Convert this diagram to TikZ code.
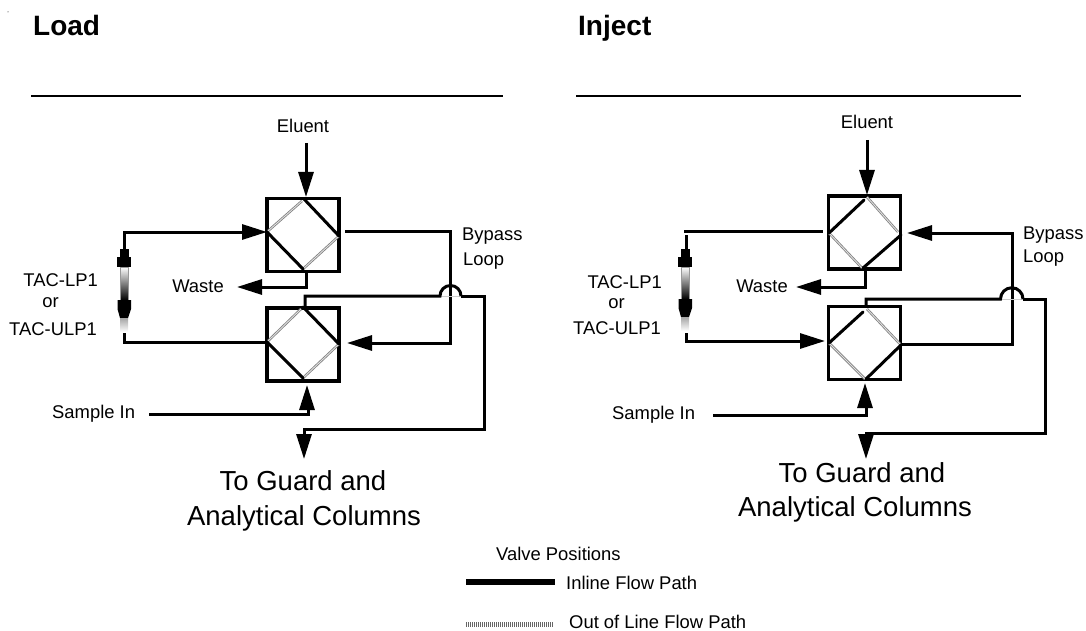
\documentclass[tikz,border=0pt]{standalone}
\usepackage{fontspec}
\setmainfont{Liberation Sans}
\usetikzlibrary{arrows.meta}

\tikzset{
  valve/.style={draw,line width=3.4pt,minimum width=72pt,minimum height=73pt,inner sep=0pt},
  inline/.style={line width=3pt,line cap=round},
  outline/.style={draw=gray,line width=.8pt,double=gray!25,double distance=.9pt},
  flow/.style={line width=3pt,line join=miter},
  flowtip/.style={flow,-{Triangle[length=25pt,width=15pt]}},
  tube/.style={top color=white,bottom color=black,draw=gray!80,line width=.8pt},
  txt/.style={font=\fontsize{18.4}{20}\selectfont,inner sep=0pt},
  bigtxt/.style={font=\fontsize{27.5}{30}\selectfont,inner sep=0pt},
  head/.style={font=\fontsize{28}{30}\selectfont\bfseries,inner sep=0pt,anchor=base west},
  rulerline/.style={line width=1.2pt}
}

\begin{document}
\begin{tikzpicture}[x=1pt,y=-1pt]
  \useasboundingbox (0,0) rectangle (1086,631);
  \fill (8,12) circle (.5);

  % Load
  \node[head] (loadhead) at (33,36) {Load};
  \coordinate (loadruleA) at (31,96);
  \coordinate (loadruleB) at (503,96);
  \draw[rulerline] (loadruleA) -- (loadruleB);

  \node[valve] (loadtop) at (303,235) {};
  \node[valve] (loadlow) at (303,344.5) {};
  \coordinate (ltT) at (304,199);
  \coordinate (ltL) at (267,232);
  \coordinate (ltR) at (339,236);
  \coordinate (ltB) at (303,269);
  \coordinate (llT) at (303,307);
  \coordinate (llL) at (267,342);
  \coordinate (llR) at (339,344);
  \coordinate (llB) at (303,378);
  \draw[outline] (ltL) ++(1,-1) -- (302,201);
  \draw[outline] (ltR) -- (ltB);
  \draw[inline] (ltT) -- (ltR);
  \draw[inline] (ltL) -- (ltB);
  \draw[outline] (llL) ++(1,-1) -- (301,309);
  \draw[outline] (llR) -- (llB);
  \draw[inline] (llT) -- (llR);
  \draw[inline] (llL) -- (llB);

  \node[txt] (loadeluent) at (303,126) {Eluent};
  \coordinate (loadeluentin) at (306,143);
  \draw[flowtip] (loadeluentin) -- (306,197);

  \coordinate (lcoltop) at (124,250);
  \coordinate (lcolbot) at (124,333);
  \draw[flowtip] (lcoltop) |- (ltL);
  \draw[flow] (lcolbot) |- (llL);
  \fill (119.5,249) rectangle (128.5,257);
  \fill (117,257) rectangle (131,267);
  \shade[tube] (120,267) rectangle (128,300);
  \fill (117.5,300) -- (131,300) -- (131,309) -- (128,318) -- (120,318) -- (117.5,309) -- cycle;
  \shade[top color=gray!70,bottom color=white] (120,318) rectangle (128,332);
  \node[txt,anchor=east] (loadtac) at (98,280) {TAC-LP1};
  \node[txt,anchor=east] (loador) at (59,303) {or};
  \node[txt,anchor=east] (loadulp) at (97,329) {TAC-ULP1};

  \node[txt] (loadwaste) at (198,286) {Waste};
  \coordinate (loadwasteout) at (306,273);
  \draw[flow] (loadwasteout) -- (306,287) -- (255,287);
  \draw[flowtip] (262,287) -- (237,287);

  \coordinate (lbyA) at (345,231);
  \coordinate (lbyB) at (450,231);
  \coordinate (lbyC) at (450,343);
  \draw[flow] (lbyA) -- (lbyB) -- (lbyC) -- (365,343);
  \draw[flowtip] (373,343) -- (347,343);
  \node[txt,anchor=west] (loadbypass) at (462,236) {Bypass};
  \node[txt,anchor=west] (loadloop) at (463,261) {Loop};

  \coordinate (lcolA) at (305,306);
  \coordinate (lcolB) at (440,296);
  \coordinate (lcolC) at (461,296);
  \coordinate (lcolD) at (484,429);
  \draw[gray!40,line width=.7pt] (lcolB) -- (lcolC);
  \draw[flow] (lcolA) -- (305,296) -- (lcolB) arc[start angle=180,end angle=0,radius=10.5pt];
  \draw[flow] (lcolC) -- (484,296) -- (lcolD) -- (304,429) -- (304,440);
  \draw[flowtip] (304,434) -- (304,459);

  \node[txt,anchor=west] (loadsample) at (52,414) {Sample In};
  \coordinate (loadsamplein) at (149,414);
  \draw[flow] (loadsamplein) -- (308,414) -- (308,400);
  \draw[flowtip] (307,409) -- (307,385);

  \node[bigtxt] (loadguard) at (303,481) {To Guard and};
  \node[bigtxt] (loadcols) at (304,518) {Analytical Columns};

  % Inject
  \node[head] (injhead) at (578,36) {Inject};
  \coordinate (injruleA) at (576,96);
  \coordinate (injruleB) at (1021,96);
  \draw[rulerline] (injruleA) -- (injruleB);

  \node[valve] (injtop) at (864.5,232.5) {};
  \node[valve] (injlow) at (864.5,343) {};
  \coordinate (itT) at (867,197);
  \coordinate (itL) at (829,233);
  \coordinate (itR) at (901,235);
  \coordinate (itB) at (863,268);
  \coordinate (ilT) at (867,309);
  \coordinate (ilL) at (829,343);
  \coordinate (ilR) at (901,345);
  \coordinate (ilB) at (866,379);
  \draw[outline] (itT) -- (898,232);
  \draw[outline] (itL) -- (862,268);
  \draw[inline] (itL) -- (864,200);
  \draw[inline] (itB) -- (itR);
  \draw[outline] (ilT) -- (900,344);
  \draw[outline] (ilL) -- (865,379);
  \draw[inline] (ilL) -- (863,312);
  \draw[inline] (ilB) -- (ilR);

  \node[txt] (injeluent) at (867,122) {Eluent};
  \coordinate (injeluentin) at (867,140);
  \draw[flowtip] (injeluentin) -- (867,195);

  \coordinate (icolline) at (684,231);
  \coordinate (itopin) at (823,231);
  \coordinate (icoltop) at (686,235);
  \coordinate (icolbot) at (686,333);
  \draw[flow] (icolline) -- (itopin);
  \draw[flow] (icoltop) -- (686,250);
  \draw[flow] (icolbot) -- (686,341) -- (805,341);
  \draw[flowtip] (799,341) -- (825,341);
  \fill (680.5,249) rectangle (689.5,257);
  \fill (678,257) rectangle (692,267);
  \shade[tube] (681,267) rectangle (689,299);
  \fill (678.5,299) -- (692,299) -- (692,308) -- (689,317) -- (681,317) -- (678.5,308) -- cycle;
  \shade[top color=gray!70,bottom color=white] (681,317) rectangle (689,331);
  \node[txt,anchor=east] (injtac) at (662,282) {TAC-LP1};
  \node[txt,anchor=east] (injor) at (625,304) {or};
  \node[txt,anchor=east] (injulp) at (661,328) {TAC-ULP1};

  \node[txt] (injwaste) at (762,286) {Waste};
  \coordinate (injwasteout) at (865,270);
  \draw[flow] (injwasteout) -- (865,287) -- (815,287);
  \draw[flowtip] (821,287) -- (796,287);

  \coordinate (ibyA) at (902,344);
  \coordinate (ibyB) at (1012,344);
  \coordinate (ibyC) at (1012,233);
  \draw[flow] (ibyA) -- (ibyB) -- (ibyC) -- (927,233);
  \draw[flowtip] (933,233) -- (907,233);
  \node[txt,anchor=west] (injbypass) at (1023,235) {Bypass};
  \node[txt,anchor=west] (injloop) at (1023,258) {Loop};

  \coordinate (icolA) at (866,305);
  \coordinate (icolB) at (1000.5,299);
  \coordinate (icolC) at (1023,299);
  \coordinate (icolD) at (1045,433);
  \draw[gray!40,line width=.7pt] (icolB) -- (icolC);
  \draw[flow] (icolA) -- (866,299) -- (icolB) arc[start angle=180,end angle=0,radius=11.25pt];
  \draw[flow] (icolC) -- (1045,299) -- (icolD) -- (866,433) -- (866,445);
  \draw[flowtip] (866,439) -- (866,459);

  \node[txt,anchor=west] (injsample) at (612,415) {Sample In};
  \coordinate (injsamplein) at (713,415);
  \draw[flow] (injsamplein) -- (866,415) -- (866,400);
  \draw[flowtip] (865,408) -- (865,383);

  \node[bigtxt] (injguard) at (862,473) {To Guard and};
  \node[bigtxt] (injcols) at (855,509) {Analytical Columns};

  % Valve Positions
  \node[txt,anchor=west] (legendhead) at (496,554) {Valve Positions};
  \coordinate (inlineA) at (466,582);
  \coordinate (inlineB) at (555,582);
  \draw[line width=6pt] (inlineA) -- (inlineB);
  \node[txt,anchor=west] (inlinetxt) at (566,583) {Inline Flow Path};
  \coordinate (outA) at (466,624);
  \coordinate (outB) at (553,624);
  \draw[black!60,line width=5pt,dash pattern=on 1pt off 1pt] (outA) -- (outB);
  \node[txt,anchor=west] (outtxt) at (569,622) {Out of Line Flow Path};
\end{tikzpicture}
\end{document}
